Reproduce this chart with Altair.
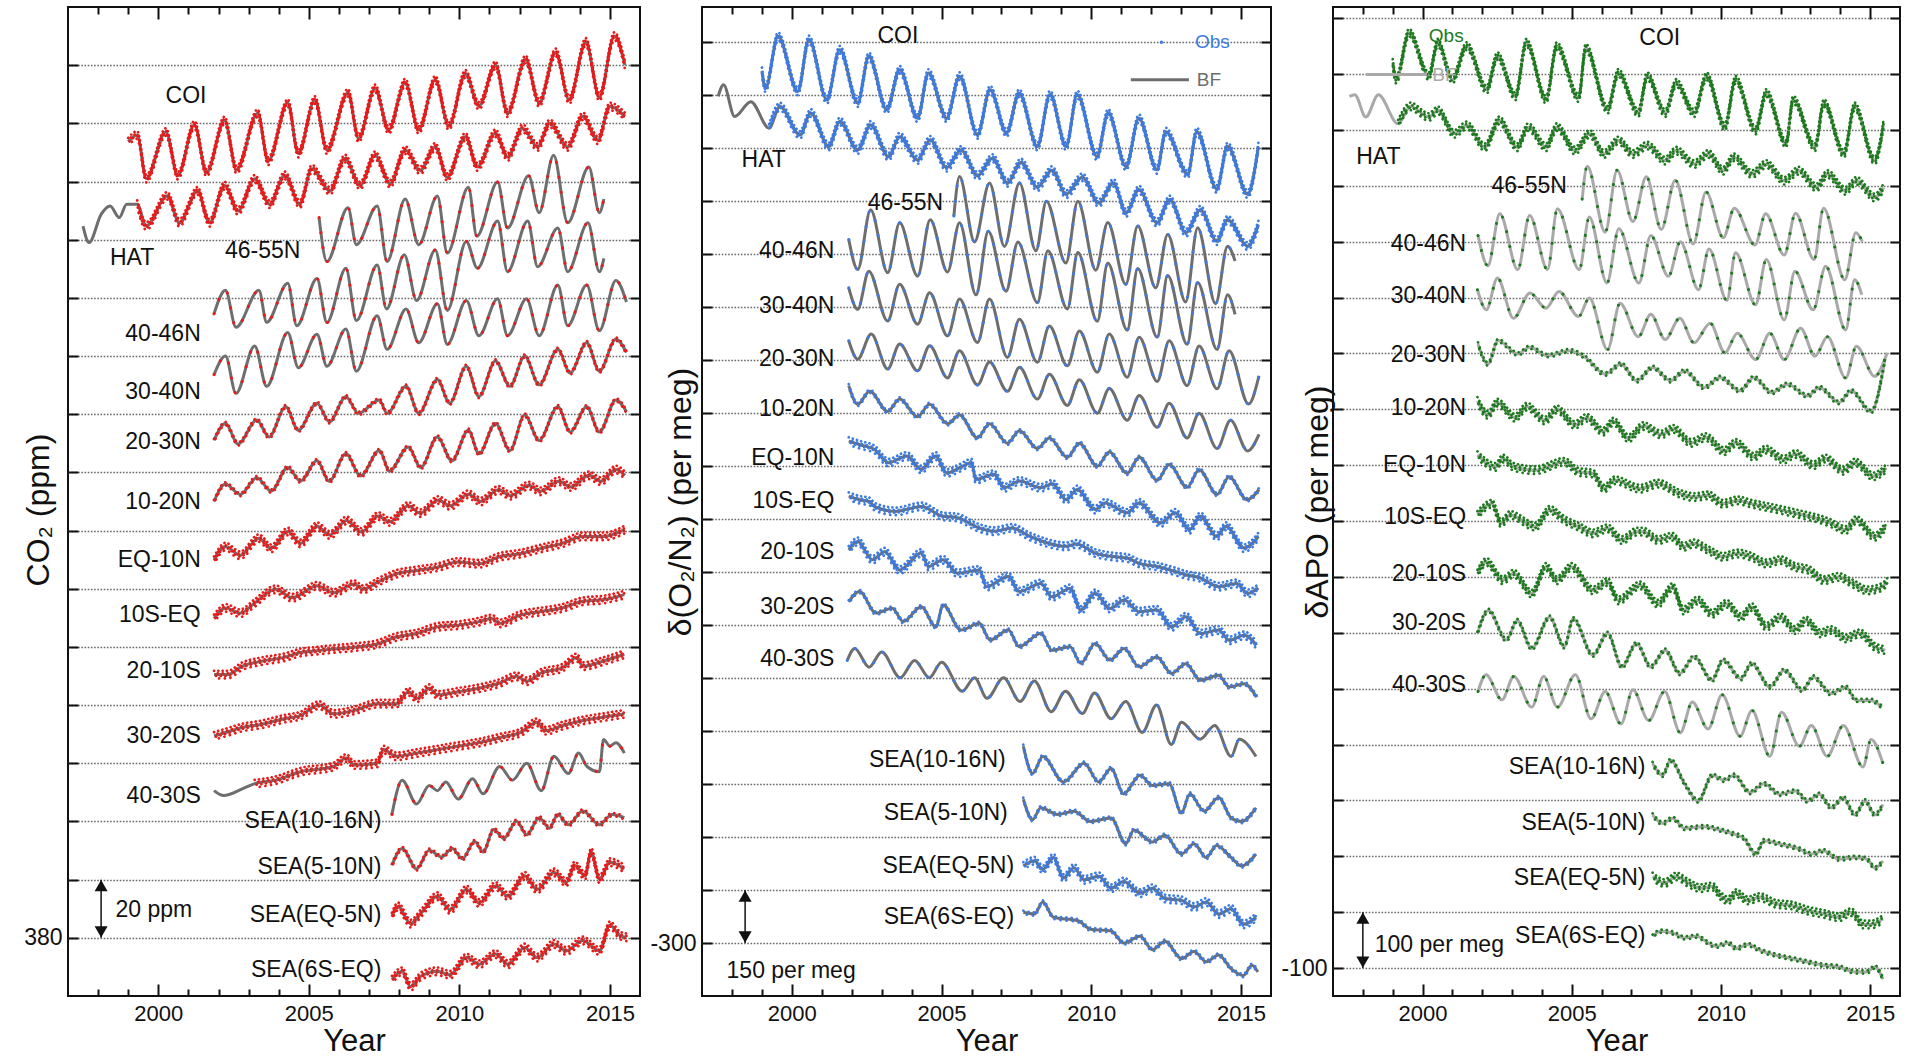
import altair as alt
import pandas as pd

FONT = "Liberation Sans, Arial, DejaVu Sans, sans-serif"
YEAR_TICKS = list(range(1998, 2016))
YEAR_LABELS = [2000, 2005, 2010, 2015]
H = 989

# ------------------------------------------------------------------ CO2 (ppm, stacked offsets)
CO2_COI = [(1999.0,653.7),(1999.3,656),(1999.6,641),(2000.25,657),(2000.65,642),(2001.2,659.5),(2001.6,643),(2002.2,661),(2002.6,644),(2003.3,663.5),(2003.65,647),(2004.3,667),(2004.65,649.6),(2005.2,668),(2005.6,650.8),(2006.3,670.5),(2006.65,654.8),(2007.2,672),(2007.65,657.7),(2008.2,674),(2008.65,657.7),(2009.2,675),(2009.65,659),(2010.2,677),(2010.65,666),(2011.2,680),(2011.6,663.5),(2012.2,682),(2012.65,667),(2013.2,684.4),(2013.65,668),(2014.2,688),(2014.65,669),(2015.15,690),(2015.5,680)]
CO2_HAT = [(1997.5,624.7),(1997.7,619),(1998.1,628.7),(1998.4,631.6),(1998.7,627.6),(1998.95,632.2),(1999.3,632.2),(1999.6,624.7),(2000.3,635.1),(2000.7,625.8),(2001.3,636.8),(2001.7,625.8),(2002.2,638.6),(2002.65,629.9),(2003.2,640.9),(2003.7,632.2),(2004.2,642.1),(2004.7,632.2),(2005.1,644.4),(2005.7,636.8),(2006.2,647.9),(2006.7,638.6),(2007.2,649),(2007.7,639.2),(2008.2,650.8),(2008.7,643.8),(2009.2,651.9),(2009.6,641.5),(2010.2,655.4),(2010.6,645),(2011.2,656.6),(2011.6,648.4),(2012.1,658.3),(2012.6,651.9),(2013.0,660),(2013.6,651.9),(2014.1,662.4),(2014.6,654.2),(2015.0,665.8),(2015.5,662.4)]
CO2_46_55N = [(2005.34,627.6),(2005.6,612.5),(2006.3,631),(2006.58,618.3),(2007.27,631.6),(2007.6,612.5),(2008.2,634),(2008.65,618.3),(2009.27,635),(2009.6,615.4),(2010.3,638),(2010.58,621.2),(2011.27,639.8),(2011.6,624),(2012.3,642),(2012.65,629.3),(2013.13,649),(2013.6,625.8),(2014.3,645),(2014.65,629.3),(2014.8,634)]
CO2_40_46N = [(2001.85,594.5),(2002.23,602.6),(2002.58,589.9),(2003.34,602.6),(2003.6,591.6),(2004.3,605),(2004.6,590.4),(2005.27,606.7),(2005.6,591.5),(2006.23,610.2),(2006.58,592.2),(2007.27,611.3),(2007.58,596.2),(2008.17,614.8),(2008.58,599.1),(2009.2,616.5),(2009.6,595.7),(2010.23,619.4),(2010.6,610.2),(2011.27,626.4),(2011.6,609),(2012.27,626.4),(2012.6,610.7),(2013.27,624),(2013.6,609),(2014.27,625.8),(2014.65,609),(2014.8,613.6)]
CO2_30_40N = [(2001.85,573.6),(2002.23,580),(2002.58,567.2),(2003.2,583.5),(2003.6,569.6),(2004.3,588.1),(2004.65,576),(2005.27,587.5),(2005.6,576.5),(2006.23,589.3),(2006.58,574.8),(2007.27,593.9),(2007.6,582.3),(2008.23,596.2),(2008.65,584.6),(2009.27,598),(2009.6,584),(2010.23,599.1),(2010.65,587),(2011.27,599.7),(2011.6,587),(2012.23,599.7),(2012.65,587),(2013.27,604.4),(2013.6,590.4),(2014.23,604.4),(2014.65,588.7),(2015.2,606),(2015.55,598.6)]
CO2_20_30N = [(2001.85,551),(2002.23,556.8),(2002.65,549.8),(2003.27,558),(2003.68,552.2),(2004.23,562.6),(2004.65,554.5),(2005.27,563.8),(2005.68,557.4),(2006.23,566),(2006.65,560.3),(2007.34,564.9),(2007.6,560.3),(2008.23,569.6),(2008.65,560.3),(2009.27,571.9),(2009.68,563.8),(2010.23,576.5),(2010.65,566.1),(2011.2,578.3),(2011.68,569.6),(2012.17,580),(2012.65,570.1),(2013.27,582.3),(2013.68,574.2),(2014.23,584.6),(2014.65,574.8),(2015.2,585.8),(2015.55,581.2)]
CO2_10_20N = [(2001.85,530),(2002.23,536),(2002.72,532.4),(2003.27,538.2),(2003.75,533.6),(2004.3,541.7),(2004.72,537),(2005.27,544),(2005.68,537),(2006.23,546.4),(2006.72,538.8),(2007.34,547.5),(2007.68,540.5),(2008.3,548.7),(2008.72,541.7),(2009.27,552.2),(2009.75,544),(2010.3,554.5),(2010.65,546.4),(2011.2,556.8),(2011.68,547.5),(2012.17,559.7),(2012.65,551),(2013.27,562.6),(2013.68,553.9),(2014.23,562.6),(2014.65,553.9),(2015.2,564.9),(2015.55,560.9)]
CO2_EQ_10N = [(2001.85,509.8),(2002.23,514.5),(2002.72,511.5),(2003.34,517.4),(2003.75,513.9),(2004.3,519.7),(2004.72,515.6),(2005.27,521.5),(2005.7,518.5),(2006.25,523.5),(2006.75,519.5),(2007.3,525),(2007.7,523),(2008.3,528.5),(2008.7,526),(2009.3,530.5),(2009.7,528.5),(2010.3,532.5),(2010.7,530),(2011.3,534),(2011.7,532),(2012.3,535.5),(2012.7,533.5),(2013.3,537),(2013.7,535),(2014.3,539),(2014.7,537),(2015.2,541),(2015.5,539)]
CO2_10S_EQ = [(2001.85,489.8),(2002.24,493.4),(2002.72,491.6),(2003.2,495.1),(2003.9,499.8),(2004.45,496.9),(2005.27,501),(2005.82,498.6),(2006.5,501.6),(2006.8,499.8),(2007.27,502.2),(2007.9,505.1),(2008.58,506.3),(2009.27,507.4),(2009.96,509.2),(2010.65,508.6),(2011.34,511),(2012.03,512.1),(2012.72,513.9),(2013.41,515.6),(2014.1,518),(2014.8,518),(2015.48,520.3)]
CO2_20_10S = [(2001.85,470.5),(2002.3,470.5),(2002.79,473.4),(2003.48,475.2),(2004.17,476.4),(2004.72,478.1),(2005.27,478.7),(2005.82,479.3),(2006.51,479.9),(2007.27,481),(2007.9,483.4),(2008.58,484.6),(2009.27,486.9),(2009.96,487.5),(2010.65,488.7),(2011.07,489.8),(2011.34,488.1),(2012.03,491),(2012.72,492.2),(2013.41,493.4),(2014.1,495.7),(2014.8,496.3),(2015.48,498)]
CO2_30_20S = [(2001.85,449.4),(2002.24,450.6),(2002.79,452.3),(2003.48,453.5),(2004.17,455.3),(2004.72,456.4),(2005.34,460),(2005.82,457),(2006.51,458.2),(2007.27,460.5),(2007.9,460.5),(2008.31,464.6),(2008.58,462.3),(2009.0,465.8),(2009.27,463.5),(2009.96,464.6),(2010.65,465.8),(2011.34,467.6),(2011.9,469.9),(2012.24,468.2),(2012.72,471.1),(2013.41,472.8),(2013.9,476.4),(2014.1,473.4),(2014.8,475.2),(2015.48,477.5)]
CO2_40_30S = [(2001.85,430.6),(2002.17,428.9),(2002.79,431.2),(2003.2,433),(2003.9,434.2),(2004.72,437.1),(2005.82,438.9),(2006.24,441.8),(2006.51,439.4),(2007.27,440),(2007.48,444.7),(2007.9,442.4),(2008.58,443.5),(2009.27,444.7),(2009.96,445.9),(2010.65,447.1),(2011.34,448.8),(2012.03,450.6),(2012.58,454.1),(2012.86,451.2),(2013.41,452.9),(2014.1,454.7),(2014.8,455.9),(2015.48,457)]
CO2_SEA_10_16N = [(2007.76,422.4),(2008.1,434.2),(2008.58,426),(2009.0,432.4),(2009.27,430.6),(2009.55,433.6),(2009.96,427.7),(2010.44,434.7),(2010.79,429.5),(2011.34,438.9),(2011.76,434.2),(2012.24,440),(2012.72,430.6),(2013.14,442.4),(2013.62,436.5),(2013.96,443.5),(2014.24,438.9),(2014.65,437.1),(2014.79,448.2),(2015.0,445.9),(2015.2,447.1),(2015.48,443.5)]
CO2_SEA_5_10N = [(2007.76,404.9),(2008.1,410.7),(2008.58,403.7),(2009.0,410.1),(2009.41,407.8),(2009.76,410.7),(2010.1,407.2),(2010.51,413.1),(2010.79,409.5),(2011.14,417.2),(2011.48,414.2),(2011.9,420.1),(2012.24,415.4),(2012.65,421.3),(2012.99,417.7),(2013.27,422.4),(2013.62,418.9),(2014.1,423.6),(2014.65,418.9),(2015.07,422.4),(2015.48,421.3)]
CO2_SEA_EQ_5N = [(2007.76,387.3),(2007.96,390.8),(2008.38,384.9),(2008.72,388.4),(2009.27,394.3),(2009.69,389.6),(2010.24,396.6),(2010.65,392),(2011.2,397.8),(2011.62,394.3),(2012.17,401.3),(2012.58,396.6),(2013.14,402.5),(2013.55,399),(2013.83,404.9),(2014.17,401.3),(2014.38,409.5),(2014.65,400.2),(2015.0,406),(2015.48,403.7)]
CO2_SEA_6S_EQ = [(2007.76,365.6),(2008.1,368.5),(2008.38,363.2),(2008.72,366.8),(2009.27,368.5),(2009.69,367.3),(2010.24,373.2),(2010.65,370.9),(2011.2,374.4),(2011.62,370.9),(2012.17,376.7),(2012.58,373.2),(2013.14,377.9),(2013.55,375.5),(2014.1,379.1),(2014.65,375.5),(2015.0,384.3),(2015.34,380.8),(2015.55,380.2)]

# ------------------------------------------------------------------ d(O2/N2) (per meg, stacked offsets)
O2_COI = [(1999.0,2168),(1999.12,2120),(1999.54,2267),(2000.2,2111),(2000.57,2258),(2001.17,2087),(2001.6,2229),(2002.2,2078),(2002.57,2210),(2003.17,2059),(2003.6,2172),(2004.2,2035),(2004.56,2163),(2005.17,2035),(2005.6,2154),(2006.2,1988),(2006.62,2116),(2007.17,1993),(2007.59,2106),(2008.2,1955),(2008.62,2102),(2009.16,1955),(2009.53,2102),(2010.19,1927),(2010.56,2050),(2011.16,1898),(2011.59,2035),(2012.19,1889),(2012.49,1997),(2013.22,1876),(2013.52,1997),(2014.19,1835),(2014.55,1955),(2015.22,1820),(2015.58,1955)]
O2_HAT = [(1997.54,2097),(1997.72,2130),(1998.09,2040),(1998.63,2082),(1999.24,2007),(1999.6,2068),(2000.27,1988),(2000.63,2050),(2001.23,1955),(2001.6,2026),(2002.2,1945),(2002.63,2016),(2003.23,1926),(2003.6,1983),(2004.2,1917),(2004.62,1974),(2005.17,1895),(2005.65,1945),(2006.2,1872),(2006.7,1922),(2007.2,1852),(2007.65,1910),(2008.2,1840),(2008.68,1888),(2009.16,1820),(2009.7,1868),(2010.25,1795),(2010.74,1852),(2011.16,1767),(2011.59,1833),(2012.19,1739),(2012.62,1805),(2013.16,1711),(2013.64,1776),(2014.19,1687),(2014.55,1748),(2015.22,1673),(2015.58,1734)]
O2_46_55N = [(2005.41,1758),(2005.6,1870),(2006.1,1685),(2006.6,1852),(2007.1,1672),(2007.6,1852),(2008.15,1660),(2008.5,1800),(2009.15,1625),(2009.55,1800),(2010.15,1605),(2010.55,1740),(2011.15,1565),(2011.55,1730),(2012.15,1555),(2012.55,1706),(2013.15,1515),(2013.55,1725),(2014.15,1510),(2014.55,1673),(2014.8,1631)]
O2_40_46N = [(2001.9,1692),(2002.2,1607),(2002.63,1776),(2003.2,1598),(2003.6,1739),(2004.2,1588),(2004.62,1748),(2005.2,1600),(2005.6,1739),(2006.15,1535),(2006.56,1715),(2007.15,1545),(2007.55,1685),(2008.2,1513),(2008.55,1660),(2009.2,1495),(2009.55,1655),(2010.2,1460),(2010.55,1625),(2011.2,1435),(2011.55,1610),(2012.2,1415),(2012.55,1590),(2013.2,1395),(2013.55,1570),(2014.2,1380),(2014.55,1535),(2014.8,1480)]
O2_30_40N = [(2001.9,1555),(2002.2,1494),(2002.57,1602),(2003.2,1461),(2003.6,1565),(2004.2,1452),(2004.6,1541),(2005.2,1419),(2005.6,1523),(2006.2,1400),(2006.6,1523),(2007.2,1358),(2007.6,1466),(2008.2,1344),(2008.6,1447),(2009.2,1334),(2009.6,1433),(2010.2,1316),(2010.6,1424),(2011.2,1302),(2011.6,1415),(2012.2,1290),(2012.6,1405),(2013.2,1278),(2013.6,1390),(2014.2,1269),(2014.6,1377),(2015.25,1226),(2015.6,1306)]
O2_20_30N = [(2001.9,1405),(2002.2,1353),(2002.65,1424),(2003.2,1325),(2003.6,1396),(2004.2,1320),(2004.6,1391),(2005.2,1300),(2005.6,1377),(2006.2,1280),(2006.6,1345),(2007.2,1262),(2007.6,1330),(2008.2,1240),(2008.6,1310),(2009.2,1222),(2009.6,1295),(2010.2,1200),(2010.6,1270),(2011.2,1180),(2011.6,1250),(2012.2,1160),(2012.6,1228),(2013.2,1130),(2013.6,1200),(2014.2,1100),(2014.65,1180),(2015.22,1093),(2015.6,1140)]
O2_10_20N = [(2001.9,1278),(2002.2,1225),(2002.6,1262),(2003.2,1205),(2003.6,1240),(2004.2,1190),(2004.6,1225),(2005.2,1170),(2005.6,1195),(2006.2,1130),(2006.6,1170),(2007.2,1115),(2007.6,1150),(2008.2,1100),(2008.6,1130),(2009.2,1075),(2009.6,1115),(2010.2,1050),(2010.6,1090),(2011.2,1030),(2011.6,1075),(2012.2,1010),(2012.6,1055),(2013.2,990),(2013.6,1040),(2014.2,970),(2014.6,1020),(2015.2,955),(2015.6,984)]
O2_EQ_10N = [(2001.9,1121),(2002.3,1110),(2002.75,1098),(2003.23,1060),(2003.84,1079),(2004.32,1041),(2004.8,1079),(2005.17,1031),(2005.6,1045),(2006.0,1060),(2006.14,1012),(2006.74,1027),(2007.1,989),(2007.59,1008),(2008.32,989),(2008.7,1000),(2009.16,955),(2009.53,984),(2010.13,927),(2010.45,946),(2011.2,918),(2011.59,946),(2012.31,889),(2012.8,918),(2013.28,870),(2013.64,908),(2014.19,851),(2014.5,880),(2015.1,818),(2015.58,851)]
O2_10S_EQ = [(2001.9,965),(2002.26,955),(2002.6,950),(2002.75,936),(2003.47,922),(2004.32,936),(2005.05,908),(2005.5,905),(2006.26,875),(2006.74,866),(2007.35,875),(2007.95,851),(2008.56,832),(2009.16,823),(2009.5,830),(2010.13,804),(2010.74,794),(2011.2,790),(2011.59,775),(2012.19,766),(2012.8,752),(2013.16,742),(2013.6,735),(2014.25,709),(2014.85,718),(2015.22,690),(2015.58,705)]
O2_20_10S = [(2001.9,813),(2002.2,837),(2002.69,785),(2003.1,808),(2003.6,756),(2004.32,804),(2004.56,766),(2005.05,785),(2005.53,747),(2006.26,756),(2006.5,709),(2007.23,738),(2007.59,695),(2008.32,718),(2008.68,680),(2009.29,704),(2009.65,643),(2010.13,690),(2010.62,647),(2011.1,671),(2011.59,638),(2012.19,643),(2012.68,595),(2013.16,624),(2013.64,576),(2014.25,586),(2014.61,557),(2015.1,571),(2015.52,543)]
O2_30_20S = [(2001.9,666),(2002.26,695),(2002.81,634),(2003.35,648),(2003.72,610),(2004.32,652),(2004.81,595),(2005.05,657),(2005.65,586),(2006.26,605),(2006.62,558),(2007.23,586),(2007.59,539),(2008.32,577),(2008.68,529),(2009.29,539),(2009.65,492),(2010.13,548),(2010.62,501),(2011.1,534),(2011.59,482),(2012.19,510),(2012.68,463),(2013.16,491),(2013.64,444),(2014.25,458),(2014.61,425),(2015.1,434),(2015.52,396)]
O2_40_30S = [(2001.85,500),(2002.1,534),(2002.58,481),(2003.0,524),(2003.62,451),(2004.1,500),(2004.59,451),(2005.0,495),(2005.69,413),(2006.1,451),(2006.52,393),(2007.07,451),(2007.62,384),(2008.1,442),(2008.66,355),(2009.14,413),(2009.7,350),(2010.11,408),(2010.66,335),(2011.15,384),(2011.7,296),(2012.18,374),(2012.67,262),(2013.01,325),(2013.63,277),(2014.12,316),(2014.67,228),(2014.94,277),(2015.5,228)]
O2_SEA_10_16N = [(2007.73,257),(2008.04,180),(2008.38,228),(2009.07,156),(2009.76,209),(2010.25,156),(2010.66,194),(2011.08,122),(2011.63,175),(2012.04,146),(2012.6,151),(2013.01,68),(2013.29,122),(2013.77,73),(2014.25,112),(2014.67,54),(2015.02,44),(2015.5,83)]
O2_SEA_5_10N = [(2007.73,107),(2008.04,49),(2008.31,83),(2008.87,64),(2009.42,73),(2009.97,44),(2010.66,54),(2011.15,-19),(2011.42,20),(2012.04,-14),(2012.46,5),(2013.01,-48),(2013.43,-19),(2013.84,-58),(2014.18,-24),(2014.67,-58),(2015.02,-82),(2015.5,-48)]
O2_SEA_EQ_5N = [(2007.73,-82),(2008.1,-67),(2008.38,-92),(2008.73,-58),(2009.07,-116),(2009.42,-87),(2009.76,-121),(2010.25,-111),(2010.66,-145),(2011.08,-126),(2011.63,-159),(2012.04,-145),(2012.46,-174),(2013.01,-179),(2013.43,-198),(2013.84,-184),(2014.25,-218),(2014.67,-203),(2015.08,-247),(2015.5,-227)]
O2_SEA_6S_EQ = [(2007.73,-213),(2008.1,-218),(2008.38,-184),(2008.73,-227),(2009.56,-237),(2009.97,-261),(2010.66,-266),(2011.08,-300),(2011.63,-281),(2012.04,-319),(2012.46,-295),(2013.01,-344),(2013.43,-324),(2013.84,-353),(2014.25,-334),(2014.67,-373),(2015.08,-392),(2015.36,-363),(2015.56,-382)]

# ------------------------------------------------------------------ dAPO (per meg, stacked offsets)
APO_COI = [(1999.0,1520),(1999.12,1490),(1999.55,1574),(2000.21,1496),(2000.51,1556),(2001.0,1490),(2001.48,1550),(2002.15,1472),(2002.51,1532),(2003.11,1460),(2003.48,1556),(2004.14,1454),(2004.5,1550),(2005.23,1457),(2005.47,1547),(2006.2,1436),(2006.56,1502),(2007.23,1430),(2007.53,1496),(2008.13,1430),(2008.5,1484),(2009.1,1430),(2009.52,1496),(2010.13,1405),(2010.49,1490),(2011.16,1399),(2011.52,1466),(2012.18,1375),(2012.42,1454),(2013.15,1369),(2013.45,1448),(2014.12,1357),(2014.48,1442),(2015.15,1345),(2015.45,1411)]
APO_HAT = [(1997.55,1460),(1997.73,1463),(1998.1,1423),(1998.52,1463),(1999.18,1411),(1999.6,1442),(2000.21,1423),(2000.51,1435),(2001.06,1393),(2001.48,1408),(2002.09,1369),(2002.57,1417),(2003.17,1369),(2003.54,1405),(2004.14,1369),(2004.5,1405),(2005.11,1363),(2005.6,1393),(2006.08,1357),(2006.56,1381),(2007.05,1357),(2007.53,1372),(2008.13,1345),(2008.5,1363),(2009.1,1339),(2009.58,1357),(2010.07,1327),(2010.43,1351),(2011.04,1321),(2011.52,1339),(2012.12,1309),(2012.6,1327),(2013.2,1297),(2013.57,1321),(2014.17,1291),(2014.54,1309),(2015.15,1279),(2015.45,1297)]
APO_46_55N = [(2005.35,1276),(2005.52,1335),(2006.12,1217),(2006.52,1328),(2007.05,1236),(2007.5,1316),(2008.0,1222),(2008.47,1310),(2009.07,1196),(2009.5,1289),(2010.08,1207),(2010.45,1260),(2011.14,1194),(2011.5,1250),(2012.12,1176),(2012.5,1251),(2013.12,1168),(2013.44,1260),(2014.15,1132),(2014.52,1216),(2014.74,1200)]
APO_40_46N = [(2001.86,1211),(2002.19,1157),(2002.59,1250),(2003.19,1150),(2003.59,1247),(2004.19,1150),(2004.52,1259),(2005.25,1150),(2005.59,1244),(2006.18,1126),(2006.58,1223),(2007.25,1126),(2007.65,1211),(2008.24,1138),(2008.64,1200),(2009.25,1114),(2009.6,1187),(2010.2,1095),(2010.49,1180),(2011.16,1087),(2011.52,1168),(2012.12,1060),(2012.48,1147),(2013.09,1078),(2013.51,1156),(2014.18,1042),(2014.48,1132),(2014.72,1105)]
APO_30_40N = [(2001.84,1114),(2002.14,1078),(2002.51,1135),(2003.05,1063),(2003.6,1108),(2004.14,1081),(2004.57,1111),(2005.23,1066),(2005.59,1099),(2006.2,1007),(2006.62,1090),(2007.23,1030),(2007.65,1070),(2008.13,1025),(2008.62,1063),(2009.1,1019),(2009.64,1054),(2010.13,1001),(2010.55,1036),(2011.16,989),(2011.64,1036),(2012.12,989),(2012.67,1045),(2013.15,995),(2013.57,1030),(2014.18,956),(2014.54,1013),(2015.15,959),(2015.57,1001)]
APO_20_30N = [(2001.86,1017),(2002.19,981),(2002.53,1023),(2003.19,999),(2003.59,1011),(2004.19,996),(2004.92,1005),(2005.45,993),(2006.12,963),(2006.65,981),(2007.18,951),(2007.71,975),(2008.31,951),(2008.78,969),(2009.44,939),(2009.97,957),(2010.64,933),(2011.1,957),(2011.7,930),(2012.23,945),(2012.9,924),(2013.3,939),(2013.96,912),(2014.36,933),(2015.03,896),(2015.5,990)]
APO_10_20N = [(2001.84,915),(2002.2,890),(2002.5,912),(2003.1,885),(2003.5,905),(2004.1,880),(2004.5,900),(2005.1,872),(2005.5,885),(2006.05,860),(2006.4,878),(2006.9,848),(2007.4,870),(2008.0,855),(2008.4,865),(2009.0,840),(2009.5,850),(2010.1,825),(2010.5,840),(2011.1,815),(2011.5,828),(2012.1,810),(2012.5,820),(2013.1,800),(2013.5,812),(2014.1,790),(2014.5,805),(2015.1,780),(2015.55,795)]
APO_EQ_10N = [(2001.84,818),(2002.45,797),(2002.69,812),(2003.05,797),(2003.78,791),(2004.75,806),(2005.23,788),(2005.71,785),(2006.08,758),(2006.44,773),(2007.29,758),(2007.89,767),(2008.62,749),(2009.1,743),(2009.58,746),(2010.07,731),(2010.55,737),(2011.03,731),(2012.0,720),(2012.73,711),(2013.21,705),(2013.69,696),(2014.18,684),(2014.54,702),(2015.15,672),(2015.51,690)]
APO_10S_EQ = [(2001.84,711),(2002.33,731),(2002.63,696),(2002.93,711),(2003.78,690),(2004.26,720),(2004.75,702),(2005.23,690),(2005.71,678),(2006.2,687),(2006.68,666),(2007.17,681),(2007.41,681),(2007.89,666),(2008.37,672),(2008.74,654),(2009.1,660),(2009.58,648),(2010.07,636),(2010.55,642),(2011.03,636),(2011.52,624),(2012.0,630),(2012.48,618),(2012.97,612),(2013.45,594),(2013.94,600),(2014.42,588),(2014.9,576),(2015.39,582),(2015.57,591)]
APO_20_10S = [(2001.84,606),(2002.14,627),(2002.69,594),(2003.05,606),(2003.66,570),(2004.14,618),(2004.5,594),(2004.99,618),(2005.71,576),(2006.2,591),(2006.56,558),(2007.29,585),(2007.89,552),(2008.38,582),(2008.74,540),(2009.22,558),(2009.7,534),(2010.19,552),(2010.67,528),(2011.03,546),(2011.52,511),(2012.0,528),(2012.48,505),(2012.85,522),(2013.33,499),(2013.69,505),(2014.18,490),(2014.66,499),(2015.15,475),(2015.51,469)]
APO_30_20S = [(2001.84,499),(2002.21,540),(2002.81,487),(2003.17,522),(2003.66,472),(2004.26,528),(2004.75,475),(2005.05,525),(2005.71,460),(2006.2,499),(2006.68,439),(2007.17,481),(2007.65,439),(2008.13,469),(2008.62,427),(2009.1,457),(2009.7,415),(2010.07,451),(2010.67,418),(2011.03,445),(2011.64,403),(2012.12,433),(2012.73,397),(2013.09,421),(2013.69,391),(2014.18,403),(2014.54,379),(2015.03,379),(2015.39,367)]
APO_40_30S = [(2001.86,395),(2002.13,425),(2002.66,380),(2003.06,422),(2003.66,367),(2004.06,422),(2004.52,367),(2005.12,425),(2005.65,346),(2006.12,395),(2006.65,337),(2007.05,398),(2007.58,343),(2008.11,395),(2008.64,321),(2009.04,376),(2009.57,328),(2010.04,389),(2010.64,315),(2011.04,361),(2011.64,279),(2012.03,358),(2012.63,297),(2013.03,334),(2013.56,279),(2014.1,334),(2014.76,260),(2015.03,309),(2015.43,266)]
APO_SEA_10_16N = [(2007.71,266),(2008.05,245),(2008.31,272),(2008.78,230),(2009.24,199),(2009.71,245),(2010.11,236),(2010.44,245),(2010.97,214),(2011.44,230),(2011.97,211),(2012.5,217),(2012.9,199),(2013.3,211),(2013.7,187),(2014.1,205),(2014.49,174),(2014.83,199),(2015.16,174),(2015.43,193)]
APO_SEA_5_10N = [(2007.71,174),(2008.05,159),(2008.38,168),(2008.78,150),(2009.44,153),(2009.97,147),(2010.37,141),(2010.77,132),(2011.17,104),(2011.44,128),(2011.97,122),(2012.63,113),(2013.03,104),(2013.43,110),(2013.96,95),(2014.49,98),(2014.89,95),(2015.16,79),(2015.43,92)]
APO_SEA_EQ_5N = [(2007.71,64),(2008.11,52),(2008.51,64),(2008.91,52),(2009.31,43),(2009.71,46),(2009.97,30),(2010.24,21),(2010.51,34),(2010.9,21),(2011.3,27),(2011.84,15),(2012.37,12),(2012.9,3),(2013.43,-3),(2013.96,-9),(2014.36,0),(2014.76,-22),(2015.03,-22),(2015.43,-12)]
APO_SEA_6S_EQ = [(2007.71,-43),(2007.98,-34),(2008.38,-37),(2008.78,-46),(2009.18,-43),(2009.57,-55),(2009.84,-61),(2010.24,-55),(2010.51,-65),(2010.9,-58),(2011.3,-68),(2011.84,-77),(2012.37,-83),(2012.9,-89),(2013.43,-95),(2013.96,-98),(2014.49,-107),(2014.89,-107),(2015.16,-98),(2015.43,-120)]

# (name, values, obs density d/m/s, first year with observations)
CO2_SERIES = [("COI",CO2_COI,"d",1999.0),("HAT",CO2_HAT,"d",1999.0),("46-55N",CO2_46_55N,"s",0),("40-46N",CO2_40_46N,"s",0),("30-40N",CO2_30_40N,"s",0),("20-30N",CO2_20_30N,"m",0),("10-20N",CO2_10_20N,"m",0),("EQ-10N",CO2_EQ_10N,"d",0),("10S-EQ",CO2_10S_EQ,"d",0),("20-10S",CO2_20_10S,"d",0),("30-20S",CO2_30_20S,"d",0),("40-30S",CO2_40_30S,"d",2003.0),("SEA(10-16N)",CO2_SEA_10_16N,"s",0),("SEA(5-10N)",CO2_SEA_5_10N,"m",0),("SEA(EQ-5N)",CO2_SEA_EQ_5N,"d",0),("SEA(6S-EQ)",CO2_SEA_6S_EQ,"d",0)]
O2_SERIES = [("COI",O2_COI,"d",0),("HAT",O2_HAT,"d",1999.2),("46-55N",O2_46_55N,"s",0),("40-46N",O2_40_46N,"s",0),("30-40N",O2_30_40N,"s",0),("20-30N",O2_20_30N,"s",0),("10-20N",O2_10_20N,"m",0),("EQ-10N",O2_EQ_10N,"d",0),("10S-EQ",O2_10S_EQ,"d",0),("20-10S",O2_20_10S,"d",0),("30-20S",O2_30_20S,"m",0),("40-30S",O2_40_30S,"s",0),("SEA(10-16N)",O2_SEA_10_16N,"m",0),("SEA(5-10N)",O2_SEA_5_10N,"m",0),("SEA(EQ-5N)",O2_SEA_EQ_5N,"d",0),("SEA(6S-EQ)",O2_SEA_6S_EQ,"m",0)]
APO_SERIES = [("COI",APO_COI,"d",0),("HAT",APO_HAT,"d",1999.1),("46-55N",APO_46_55N,"s",0),("40-46N",APO_40_46N,"s",0),("30-40N",APO_30_40N,"s",0),("20-30N",APO_20_30N,"m",0),("10-20N",APO_10_20N,"d",0),("EQ-10N",APO_EQ_10N,"d",0),("10S-EQ",APO_10S_EQ,"d",0),("20-10S",APO_20_10S,"d",0),("30-20S",APO_30_20S,"m",0),("40-30S",APO_40_30S,"s",0),("SEA(10-16N)",APO_SEA_10_16N,"m",0),("SEA(5-10N)",APO_SEA_5_10N,"m",0),("SEA(EQ-5N)",APO_SEA_EQ_5N,"d",0),("SEA(6S-EQ)",APO_SEA_6S_EQ,"m",0)]

CO2_LABELS = [("COI",2000.92,669.3,"center"),("HAT",1999.13,613.6,"center"),("46-55N",2004.72,616.0,"right"),("40-46N",2001.41,587.5,"right"),("30-40N",2001.41,567.8,"right"),("20-30N",2001.41,550.4,"right"),("10-20N",2001.41,530.0,"right"),("EQ-10N",2001.41,509.8,"right"),("10S-EQ",2001.41,491.0,"right"),("20-10S",2001.41,471.7,"right"),("30-20S",2001.41,449.4,"right"),("40-30S",2001.41,428.9,"right"),("SEA(10-16N)",2007.41,420.1,"right"),("SEA(5-10N)",2007.41,404.3,"right"),("SEA(EQ-5N)",2007.41,387.9,"right"),("SEA(6S-EQ)",2007.41,369.1,"right"),("20 ppm",1998.58,389.6,"left")]
O2_LABELS = [("COI",2003.54,2268,"center"),("HAT",1999.06,1917,"center"),("46-55N",2005.05,1795,"right"),("40-46N",2001.42,1659,"right"),("30-40N",2001.42,1504,"right"),("20-30N",2001.42,1353,"right"),("10-20N",2001.42,1211,"right"),("EQ-10N",2001.42,1074,"right"),("10S-EQ",2001.42,951,"right"),("20-10S",2001.42,808,"right"),("30-20S",2001.42,652,"right"),("40-30S",2001.42,505,"right"),("SEA(10-16N)",2007.14,219,"right"),("SEA(5-10N)",2007.21,68,"right"),("SEA(EQ-5N)",2007.42,-82,"right"),("SEA(6S-EQ)",2007.42,-227,"right"),("150 per meg",1997.82,-380,"left")]
APO_LABELS = [("COI",2007.95,1565,"center"),("HAT",1998.52,1351,"center"),("46-55N",2004.84,1300,"right"),("40-46N",2001.46,1195,"right"),("30-40N",2001.46,1102,"right"),("20-30N",2001.46,998,"right"),("10-20N",2001.46,902,"right"),("EQ-10N",2001.46,800,"right"),("10S-EQ",2001.46,707,"right"),("20-10S",2001.46,606,"right"),("30-20S",2001.46,518,"right"),("40-30S",2001.46,406,"right"),("SEA(10-16N)",2007.47,260,"right"),("SEA(5-10N)",2007.47,159,"right"),("SEA(EQ-5N)",2007.47,61,"right"),("SEA(6S-EQ)",2007.47,-43,"right"),("100 per meg",1998.4,-58,"left")]

PANELS = [
    dict(width=572, ydom=[360, 700], grid=list(range(380, 700, 20)), base=380,
         title="CO\u2082 (ppm)", title_x=-30, title_dy=8, obs="#ec1818", bf="#6e6e6e",
         series=CO2_SERIES, labels=CO2_LABELS, arrow=(1998.1, 380, 400), legend=None),
    dict(width=569, ydom=[-450, 2350], grid=list(range(-300, 2350, 150)), base=-300,
         title="\u03b4(O\u2082/N\u2082) (per meg)", title_x=-22, title_dy=0, obs="#3b7be3", bf="#6e6e6e",
         series=O2_SERIES, labels=O2_LABELS, arrow=(1998.44, -300, -150),
         legend=dict(obs=(2013.46, 2250), dot=(2012.34, 2250), bf=(2013.52, 2144), line=(2011.32, 2013.26, 2144), bftext="#6e6e6e")),
    dict(width=567, ydom=[-150, 1620], grid=list(range(-100, 1650, 100)), base=-100,
         title="\u03b4APO (per meg)", title_x=-16, title_dy=0, obs="#1b7a1b", bf="#a9a9a9",
         series=APO_SERIES, labels=APO_LABELS, arrow=(1998.0, -100, 0),
         legend=dict(obs=(2000.21, 1568), dot=None, bf=(2000.33, 1499), line=(1998.1, 2000.15, 1499), bftext="#a9a9a9")),
]

TICK_SIZE_X = {"condition": {"test": "datum.value % 5 === 0", "value": 12}, "value": 7}

# dotted strokes used to draw the observation clouds: (yOffset px, dash period px, dash offset px)
DENSE_STROKES = [(-3.8, 4.2, 0.0), (-1.3, 4.9, 1.3), (1.3, 4.6, 2.7), (3.8, 5.6, 0.6)]
MEDIUM_STROKES = [(-1.6, 5.2, 0.0), (1.6, 6.0, 2.5)]


def build_panel(cfg):
    W = cfg["width"]
    xs = alt.Scale(domain=[1997, 2016], nice=False, zero=False)
    ys = alt.Scale(domain=cfg["ydom"], nice=False, zero=False)
    X = alt.X("t:Q", scale=xs, axis=None)
    Y = alt.Y("v:Q", scale=ys, axis=None)

    rows = []
    for name, pts, style, obs_from in cfg["series"]:
        for t, v in pts:
            rows.append({"series": name, "t": t, "v": v, "style": style, "obs": t >= obs_from})
    df = pd.DataFrame(rows)

    carrier_df = pd.DataFrame({"t": [2000.0], "v": [float(cfg["grid"][0])]})
    base_lab = cfg["base"]
    axA_x = alt.Axis(orient="bottom", values=YEAR_LABELS, format="d", ticks=False, tickSize=0, domain=False,
                     grid=False, labelFontSize=22, labelPadding=7, labelColor="#111", labelFont=FONT,
                     title="Year", titleFontSize=31, titleFontWeight="normal", titleFont=FONT, titleColor="#111",
                     titleY=54, titleBaseline="alphabetic")
    axA_y = alt.Axis(orient="left", values=cfg["grid"], labelExpr=f"datum.value == {base_lab} ? '{base_lab}' : ''",
                     ticks=False, tickSize=0, domain=False, labelPadding=6, labelFontSize=23, labelColor="#111",
                     labelFont=FONT, grid=True, gridDash=[1.6, 1.6], gridColor="#6a6a6a", gridWidth=1.6,
                     title=cfg["title"], titleFontSize=32, titleFontWeight="normal", titleFont=FONT,
                     titleColor="#111", titleX=cfg["title_x"], titleY=H / 2 + cfg["title_dy"], titleAngle=270,
                     titleAlign="center", titleBaseline="middle")
    carrierA = alt.Chart(carrier_df).mark_point(opacity=0).encode(
        x=alt.X("t:Q", scale=xs, axis=axA_x), y=alt.Y("v:Q", scale=ys, axis=axA_y))
    axB_x = alt.Axis(orient="top", offset=-H, values=YEAR_TICKS, labels=False, domain=False, grid=False,
                     title=None, tickSize=TICK_SIZE_X, tickColor="#111", tickWidth=2)
    axB_y = alt.Axis(orient="right", offset=-W, values=cfg["grid"], labels=False, domain=False, grid=False,
                     title=None, tickSize=10, tickColor="#111", tickWidth=2)
    carrierB = alt.Chart(carrier_df).mark_point(opacity=0).encode(
        x=alt.X("t:Q", scale=xs, axis=axB_x), y=alt.Y("v:Q", scale=ys, axis=axB_y))
    axC_x = alt.Axis(orient="bottom", offset=-H, values=YEAR_TICKS, labels=False, domain=False, grid=False,
                     title=None, tickSize=TICK_SIZE_X, tickColor="#111", tickWidth=2)
    axC_y = alt.Axis(orient="left", offset=-W, values=cfg["grid"], labels=False, domain=False, grid=False,
                     title=None, tickSize=10, tickColor="#111", tickWidth=2)
    carrierC = alt.Chart(carrier_df).mark_point(opacity=0).encode(
        x=alt.X("t:Q", scale=xs, axis=axC_x), y=alt.Y("v:Q", scale=ys, axis=axC_y))

    layers = [carrierA, carrierB, carrierC]

    # best-fit curves
    layers.append(alt.Chart(df).mark_line(color=cfg["bf"], strokeWidth=3, interpolate="monotone")
                  .encode(x=X, y=Y, detail="series:N"))

    # observations, drawn as dotted strokes along the observed values
    obs = df[df["obs"]]
    c = cfg["obs"]
    dense = alt.Chart(obs[obs["style"] == "d"])
    for off, period, doff in DENSE_STROKES:
        layers.append(dense.mark_line(color=c, strokeWidth=2.7, strokeDash=[0.1, period], strokeDashOffset=doff,
                                      strokeCap="round", interpolate="monotone", yOffset=off)
                      .encode(x=X, y=Y, detail="series:N"))
    med = alt.Chart(obs[obs["style"] == "m"])
    for off, period, doff in MEDIUM_STROKES:
        layers.append(med.mark_line(color=c, strokeWidth=2.7, strokeDash=[0.1, period], strokeDashOffset=doff,
                                    strokeCap="round", interpolate="monotone", yOffset=off)
                      .encode(x=X, y=Y, detail="series:N"))
    sparse = alt.Chart(obs[obs["style"] == "s"])
    layers.append(sparse.mark_line(color=c, strokeWidth=3, strokeDash=[0.1, 15], strokeCap="round",
                                   interpolate="monotone").encode(x=X, y=Y, detail="series:N"))

    # labels
    lab = pd.DataFrame(cfg["labels"], columns=["text", "t", "v", "align"])
    for al in ("left", "center", "right"):
        sub = lab[lab["align"] == al]
        if len(sub):
            layers.append(alt.Chart(sub).mark_text(align=al, baseline="middle", fontSize=23, color="#111",
                                                   font=FONT).encode(x=X, y=Y, text="text:N"))

    # scale arrow
    ax_t, a0, a1 = cfg["arrow"]
    arr = pd.DataFrame({"t": [ax_t], "v": [a0], "v2": [a1]})
    layers.append(alt.Chart(arr).mark_rule(color="#111", strokeWidth=1.5)
                  .encode(x=X, y=Y, y2="v2:Q"))
    layers.append(alt.Chart(pd.DataFrame({"t": [ax_t], "v": [a1]}))
                  .mark_point(shape="triangle-up", filled=True, color="#111", size=170, opacity=1, yOffset=6)
                  .encode(x=X, y=Y))
    layers.append(alt.Chart(pd.DataFrame({"t": [ax_t], "v": [a0]}))
                  .mark_point(shape="triangle-down", filled=True, color="#111", size=170, opacity=1, yOffset=-6)
                  .encode(x=X, y=Y))

    leg = cfg["legend"]
    if leg:
        layers.append(alt.Chart(pd.DataFrame({"t": [leg["obs"][0]], "v": [leg["obs"][1]], "text": ["Obs"]}))
                      .mark_text(align="left", baseline="middle", fontSize=19, color=c, font=FONT)
                      .encode(x=X, y=Y, text="text:N"))
        layers.append(alt.Chart(pd.DataFrame({"t": [leg["bf"][0]], "v": [leg["bf"][1]], "text": ["BF"]}))
                      .mark_text(align="left", baseline="middle", fontSize=19, color=leg["bftext"], font=FONT)
                      .encode(x=X, y=Y, text="text:N"))
        l0, l1, lv = leg["line"]
        layers.append(alt.Chart(pd.DataFrame({"t": [l0], "t2": [l1], "v": [lv]}))
                      .mark_rule(color=cfg["bf"], strokeWidth=3).encode(x=X, x2="t2:Q", y=Y))
        if leg["dot"]:
            layers.append(alt.Chart(pd.DataFrame({"t": [leg["dot"][0]], "v": [leg["dot"][1]]}))
                          .mark_point(filled=True, color=c, size=12, opacity=1).encode(x=X, y=Y))

    return alt.layer(*layers).resolve_axis(x="independent", y="independent").properties(width=W, height=H)


panels = [build_panel(p) for p in PANELS]
chart = (
    alt.hconcat(*panels, spacing=62, bounds="flush")
    .properties(padding={"left": 21, "top": 5, "right": 0, "bottom": 0})
    .configure(font=FONT)
    .configure_view(stroke="#111", strokeWidth=2)
)
chart.save("out.html", embed_options={"renderer": "svg", "actions": False})
